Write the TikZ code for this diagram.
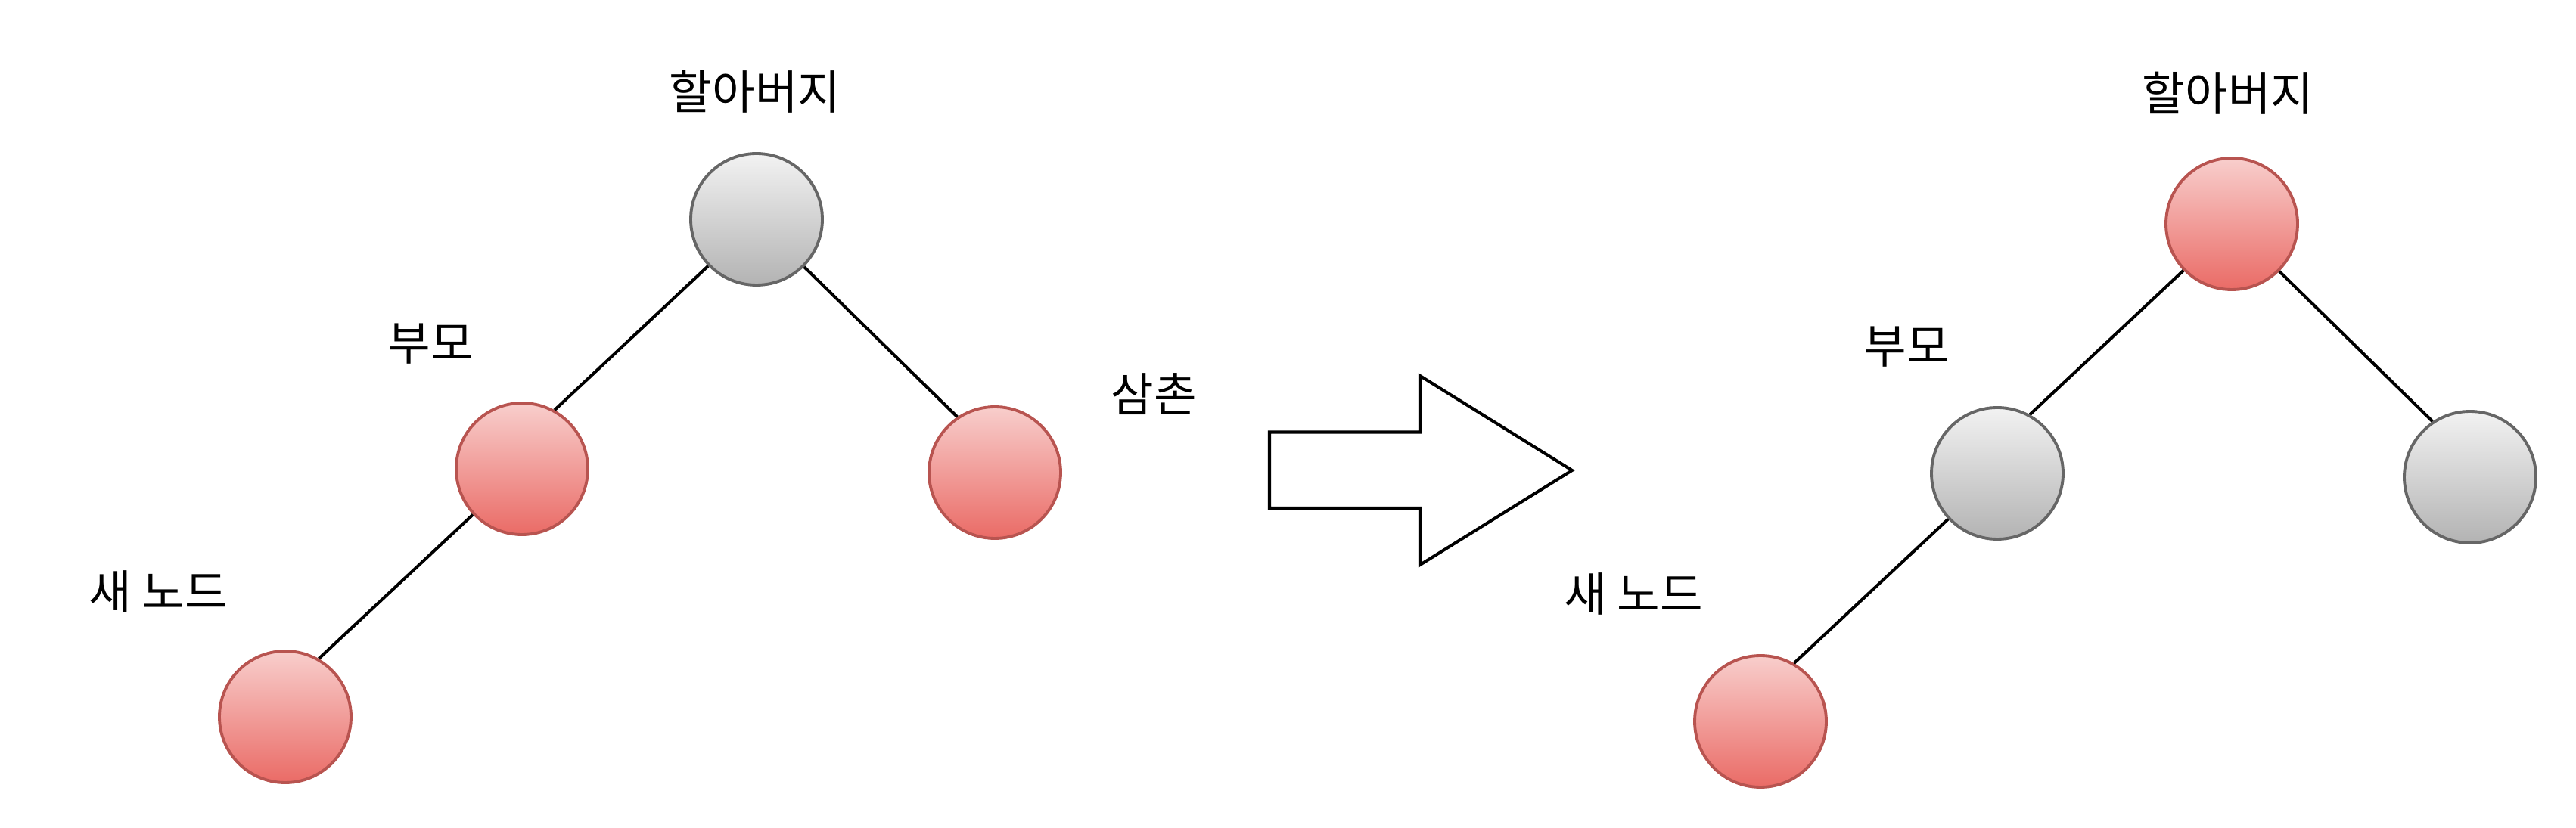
\documentclass[tikz,border=0pt]{standalone}
\usepackage{fontspec}
\newfontfamily\krfont{Noto Sans CJK KR}
\definecolor{redtop}{HTML}{F8CECC}
\definecolor{redbot}{HTML}{EA6B66}
\definecolor{redline}{HTML}{B85450}
\definecolor{graytop}{HTML}{F2F2F2}
\definecolor{graybot}{HTML}{B3B3B3}
\definecolor{grayline}{HTML}{666666}
\tikzset{
  ball/.style={circle, line width=1.1pt, minimum size=1.74cm, inner sep=0pt},
  redball/.style={ball, draw=redline, top color=redtop, bottom color=redbot},
  grayball/.style={ball, draw=grayline, top color=graytop, bottom color=graybot},
  tag/.style={font=\krfont\fontsize{17.5}{20}\selectfont, inner sep=0pt},
  link/.style={line width=1.15pt}
}

\begin{document}
\begin{tikzpicture}
  \useasboundingbox (0,0) rectangle (34.05,-10.95);
  % before
  \node[grayball] (gpL) at (10.00,-2.90) {};
  \node[redball] (parL) at (6.90,-6.20) {};
  \node[redball] (uncL) at (13.15,-6.25) {};
  \node[redball] (newL) at (3.77,-9.48) {};
  \node[tag] (gpLtag) at (9.98,-1.21) {할아버지};
  \node[tag] (parLtag) at (5.69,-4.55) {부모};
  \node[tag] (newLtag) at (2.09,-7.82) {새 노드};
  \node[tag] (uncLtag) at (15.25,-5.21) {삼촌};
  \draw[link] (gpL.224) -- (parL.61);
  \draw[link] (gpL.315) -- (uncL.124);
  \draw[link] (parL.223) -- (newL.60);
  % after
  \node[redball] (gpR) at (29.50,-2.96) {};
  \node[grayball] (parR) at (26.40,-6.26) {};
  \node[grayball] (uncR) at (32.65,-6.31) {};
  \node[redball] (newR) at (23.27,-9.54) {};
  \node[tag] (gpRtag) at (29.45,-1.23) {할아버지};
  \node[tag] (parRtag) at (25.20,-4.59) {부모};
  \node[tag] (newRtag) at (21.59,-7.85) {새 노드};
  \draw[link] (gpR.224) -- (parR.61);
  \draw[link] (gpR.315) -- (uncR.124);
  \draw[link] (parR.223) -- (newR.60);
  % big arrow
  \draw[link] (16.78,-5.715) -- (18.77,-5.715) -- (18.77,-4.97) -- (20.78,-6.22)
    -- (18.77,-7.47) -- (18.77,-6.72) -- (16.78,-6.72) -- cycle;
\end{tikzpicture}
\end{document}
